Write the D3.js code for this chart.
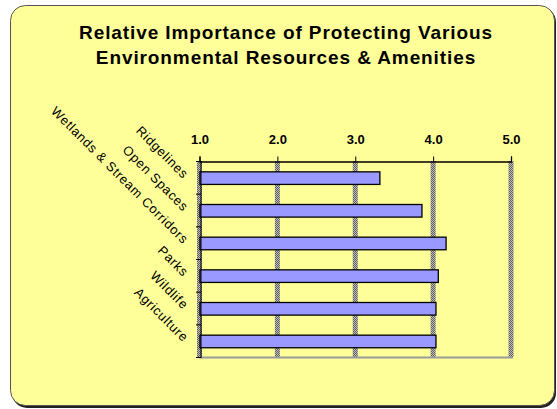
<!DOCTYPE html>
<html>
<head>
<meta charset="utf-8">
<script src="https://cdn.jsdelivr.net/npm/d3@7/dist/d3.min.js"></script>
<style>
  html, body { margin: 0; padding: 0; background: #ffffff; }
  svg { display: block; font-family: Arial, "Liberation Sans", sans-serif; }
</style>
</head>
<body>
<svg id="chart" width="557" height="409"></svg>
<script>
// Survey categories, top to bottom
const categories = [
  "Ridgelines",
  "Open Spaces",
  "Wetlands & Stream Corridors",
  "Parks",
  "Wildlife",
  "Agriculture"
];
// Mean importance rating (1 = low, 5 = high)
const ratings = [3.31, 3.85, 4.16, 4.06, 4.03, 4.03];
// Rating axis ticks
const tickValues = [1, 2, 3, 4, 5];
const titleLines = [
  "Relative Importance of Protecting Various",
  "Environmental Resources & Amenities"
];

const svg = d3.select("#chart");
const defs = svg.append("defs");

// dotted grey fill used for the vertical gridlines
const pat = defs.append("pattern")
  .attr("id", "dots")
  .attr("width", 2).attr("height", 2)
  .attr("patternUnits", "userSpaceOnUse");
pat.append("rect").attr("width", 2).attr("height", 2).attr("fill", "#bdbdbd");
pat.append("rect").attr("width", 1).attr("height", 1).attr("fill", "#5e5e5e");
pat.append("rect").attr("x", 1).attr("y", 1).attr("width", 1).attr("height", 1).attr("fill", "#5e5e5e");

// chart frame with a drop shadow
svg.append("rect")
  .attr("x", 12).attr("y", 7).attr("width", 544).attr("height", 401)
  .attr("rx", 15).attr("ry", 15)
  .attr("fill", "#222");
svg.append("rect")
  .attr("x", 10.5).attr("y", 5.5).attr("width", 544).attr("height", 400)
  .attr("rx", 15).attr("ry", 15)
  .attr("fill", "#ffff99")
  .attr("stroke", "#555").attr("stroke-width", 1);

// title
svg.append("g")
  .selectAll("text")
  .data(titleLines)
  .join("text")
  .attr("x", 286)
  .attr("y", (d, i) => 39 + i * 25)
  .attr("text-anchor", "middle")
  .attr("font-size", 19)
  .attr("font-weight", "bold")
  .attr("letter-spacing", 0.9)
  .attr("fill", "#000")
  .text(d => d);

const plot = { left: 199.5, right: 511, top: 161, bottom: 357 };

const x = d3.scaleLinear().domain([1, 5]).range([plot.left, plot.right]);
const y = d3.scaleBand().domain(categories).range([plot.top, plot.bottom]).padding(0);

const g = svg.append("g");

// vertical gridlines
g.selectAll("rect.grid")
  .data(tickValues)
  .join("rect")
  .attr("class", "grid")
  .attr("x", d => x(d) - 2.5)
  .attr("y", plot.top)
  .attr("width", 5)
  .attr("height", plot.bottom - plot.top)
  .attr("fill", "url(#dots)");

// bottom border of plot area
g.append("line")
  .attr("x1", plot.left).attr("x2", plot.right + 2)
  .attr("y1", plot.bottom + 0.5).attr("y2", plot.bottom + 0.5)
  .attr("stroke", "#9a9a9a").attr("stroke-width", 2);

// bars
const barH = 12.6;
g.selectAll("rect.bar")
  .data(categories)
  .join("rect")
  .attr("class", "bar")
  .attr("x", x(1) + 0.5)
  .attr("y", d => y(d) + y.bandwidth() / 2 - barH / 2 + 0.8)
  .attr("width", (d, i) => x(ratings[i]) - x(1))
  .attr("height", barH)
  .attr("fill", "#9999ff")
  .attr("stroke", "#000")
  .attr("stroke-width", 1.3);

// top value axis
const xAxis = d3.axisTop(x)
  .tickValues(tickValues)
  .tickFormat(d3.format(".1f"))
  .tickSize(5)
  .tickPadding(13);
const ax = svg.append("g")
  .attr("transform", `translate(0,${plot.top + 0.5})`)
  .call(xAxis);
ax.select(".domain").attr("stroke", "#000").attr("stroke-width", 1.3);
ax.selectAll(".tick line").attr("stroke", "#000");
ax.selectAll(".tick text")
  .attr("font-size", 13)
  .attr("font-weight", "bold")
  .attr("font-family", "Arial, 'Liberation Sans', sans-serif")
  .attr("fill", "#000");

// left category axis (tick marks at band edges)
const edges = categories.map(c => y(c)).concat([plot.bottom]);
svg.append("line")
  .attr("x1", plot.left + 1.5).attr("x2", plot.left + 1.5)
  .attr("y1", plot.top).attr("y2", plot.bottom + 1)
  .attr("stroke", "#000").attr("stroke-width", 1);
svg.append("g")
  .selectAll("line")
  .data(edges)
  .join("line")
  .attr("x1", plot.left - 3.5).attr("x2", plot.left + 1.5)
  .attr("y1", d => d + 0.5).attr("y2", d => d + 0.5)
  .attr("stroke", "#000").attr("stroke-width", 1);

// rotated category labels
svg.append("g")
  .selectAll("text")
  .data(categories)
  .join("text")
  .attr("transform", d => `translate(183,${y(d) + y.bandwidth() / 2 + 2}) rotate(45)`)
  .attr("text-anchor", "end")
  .attr("font-size", 13)
  .attr("letter-spacing", 0.7)
  .attr("fill", "#000")
  .text(d => d);
</script>
</body>
</html>
